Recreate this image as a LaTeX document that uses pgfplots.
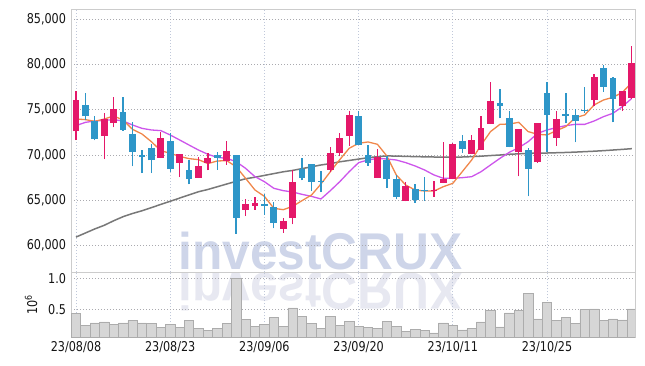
\documentclass[border=0pt]{standalone}
\usepackage{fontspec}
\setmainfont{DejaVu Sans}[FakeStretch=0.83]
\newfontfamily\wmfont{Liberation Sans}[FakeStretch=0.96]
\usepackage{pgfplots}
\pgfplotsset{compat=1.18}
\usepackage{pgfplotstable}

\definecolor{upred}{RGB}{228,24,105}
\definecolor{dnblue}{RGB}{46,150,200}
\definecolor{maorange}{RGB}{240,135,75}
\definecolor{mapurple}{RGB}{205,85,235}
\definecolor{magray}{RGB}{120,120,120}
\definecolor{volfill}{RGB}{214,214,214}
\definecolor{voledge}{RGB}{172,172,172}
\definecolor{wm}{RGB}{206,213,233}
\definecolor{wmr}{RGB}{231,232,241}
\definecolor{vgrid}{RGB}{192,200,218}
\definecolor{hgrid}{RGB}{170,170,175}

\pgfplotstableread{
x o h l c
0 72600 77100 71650 76100
3 72150 74600 69550 73950
4 73550 76350 73050 75050
9 69700 72550 69650 71850
11 69150 70150 67550 70100
13 67500 69750 67450 68800
14 69100 70200 68300 69650
16 69350 71500 68950 70450
18 63950 65200 63250 64550
19 64400 65350 63950 64700
22 61850 63100 61450 62700
23 63000 68350 62350 67000
27 68350 70900 68100 70200
28 70250 72400 69850 71900
29 72150 74800 71000 74400
32 67500 70650 67450 69750
35 64950 67000 64900 66550
38 66000 67150 65400 66150
39 66950 71400 66900 67350
40 67350 71350 67300 71200
42 70150 72200 70100 71600
43 70600 74350 70550 72950
44 73450 78000 73400 75950
47 70300 72900 67650 72850
49 69200 73550 69150 73500
51 71900 74850 71000 73950
55 76050 78950 75350 78650
58 75350 77100 74850 77050
59 76250 82000 76200 80100
}\up

\pgfplotstableread{
x o h l c
1 75500 76800 73850 74250
2 73700 74300 71600 71750
5 74750 76350 72700 72750
6 72300 73600 68750 70350
7 70000 70500 68000 69750
8 70750 71200 68000 69400
10 71550 72450 68150 68450
12 68350 69450 66750 67350
15 70000 70300 68400 69700
17 70000 70050 61300 63050
20 64650 65650 63400 64400
21 64250 64850 61900 62550
24 68450 69650 67200 67500
25 69000 69050 66050 67050
26 67180 68200 65950 67080
30 74350 74900 71050 71100
31 70000 71100 68800 69150
33 69400 69850 66350 67300
34 67350 67850 65100 65400
36 66250 66800 64750 65000
37 66150 67600 64950 66000
41 71500 72200 70200 70700
45 75750 77250 74050 75350
46 74100 74800 70850 70900
48 70550 70750 65450 68500
50 76850 78000 70300 74400
52 74500 76800 73500 74350
53 74400 75050 71400 73700
54 74970 77550 74650 74860
56 79600 79900 77000 77550
57 78450 78550 73600 76200
}\dn

\pgfplotstableread{
x m5 m10 mlong
0 73970 73240 60950
1 73900 73600 61400
2 73710 73750 61850
3 73970 73820 62250
4 74300 73900 62750
5 73860 73750 63200
6 72830 73310 63550
7 72320 72940 63850
8 71470 72760 64200
9 70480 72690 64550
10 70190 72210 64900
11 69850 71660 65250
12 69600 71100 65600
13 69490 70550 65950
14 69050 70080 66200
15 69340 69740 66500
16 69380 69630 66800
17 68710 69270 67100
18 67430 68530 67380
19 66140 67610 67550
20 65440 67060 67750
21 64120 66330 67950
22 63970 66070 68150
23 64340 65920 68300
24 64970 65660 68500
25 65590 65440 68700
26 66800 65150 68900
27 68160 66070 69050
28 69490 67060 69250
29 70740 68160 69400
30 71290 69160 69550
31 71440 69450 69700
32 71180 69630 69820
33 69890 69560 69900
34 67800 69450 69880
35 66690 69160 69850
36 66140 68790 69820
37 66030 68350 69800
38 66030 67800 69780
39 66510 67430 69760
40 66880 67430 69750
41 68160 67500 69780
42 69450 67610 69820
43 71100 68160 69870
44 72580 68900 69940
45 73380 69630 70000
46 73420 70300 70080
47 73600 70810 70130
48 72580 71470 70180
49 72280 72390 70210
50 72210 72760 70220
51 72690 73020 70250
52 73130 73240 70280
53 74120 73380 70320
54 74410 73380 70370
55 75520 73750 70420
56 76070 74230 70480
57 76360 74600 70550
58 76910 75330 70620
59 77980 76250 70700
}\ma

\pgfplotstableread{
x v
0 0.425
1 0.23
2 0.275
3 0.29
4 0.245
5 0.275
6 0.31
7 0.275
8 0.26
9 0.195
10 0.245
11 0.195
12 0.31
13 0.178
14 0.145
15 0.178
16 0.27
17 1.01
18 0.33
19 0.22
20 0.25
21 0.36
22 0.22
23 0.52
24 0.38
25 0.27
26 0.185
27 0.38
28 0.23
29 0.30
30 0.22
31 0.20
32 0.185
33 0.30
34 0.22
35 0.136
36 0.168
37 0.145
38 0.11
39 0.275
40 0.23
41 0.16
42 0.178
43 0.29
44 0.475
45 0.21
46 0.44
47 0.475
48 0.755
49 0.34
50 0.605
51 0.31
52 0.36
53 0.26
54 0.49
55 0.505
56 0.31
57 0.34
58 0.325
59 0.505
}\vol

\pgfplotsset{common/.style={
  scale only axis, width=564pt,
  xmin=-0.53, xmax=59.34,
  xtick={0,10,20,30,40,50},
  grid=major, major tick length=0pt,
  axis line style={draw=black!20},
  x grid style={dash pattern=on 0.9pt off 2.1pt, color=vgrid, line width=0.8pt},
  y grid style={dash pattern=on 0.9pt off 2.1pt, color=hgrid, line width=0.8pt},
  tick label style={font=\fontsize{13.5}{15}\selectfont, text=black!92},
  /pgf/number format/assume math mode=true,
},
candle/.style n args={2}{draw=none, mark=none,
  error bars/.cd, y dir=plus, y explicit, error mark=none,
  error bar style={draw=#1, line width=#2, solid}}
}

\begin{document}
\begin{tikzpicture}
\path[use as bounding box] (-71pt,-94pt) rectangle (574pt,272pt);
\node[font=\wmfont\bfseries\fontsize{51.7}{52}\selectfont, text=wm, anchor=base, inner sep=0pt] at (249.5pt,2pt) {investCRUX};
\node[font=\wmfont\bfseries\fontsize{51.7}{52}\selectfont, text=wmr, anchor=base, inner sep=0pt] at (249.5pt,-1.3pt) {\scalebox{1}[-1]{investCRUX}};

\begin{axis}[common,
  at={(0,0)}, anchor=south west, height=263pt,
  ymin=57100, ymax=86100,
  ytick={60000,65000,70000,75000,80000,85000},
  scaled y ticks=false,
  /pgf/number format/1000 sep={,},
  xticklabels={,,,,,},
  yticklabel style={xshift=-1.5pt},
]
% moving averages
\addplot[magray, line width=1.5pt] table[x=x, y=mlong] {\ma};
\addplot[mapurple, line width=1.3pt] table[x=x, y=m10] {\ma};
\addplot[maorange, line width=1.3pt] table[x=x, y=m5] {\ma};
% up candles: wicks and bodies
\addplot[candle={upred}{1.3pt}]
  table[x=x, y=l, y error plus expr={\thisrow{h}-\thisrow{l}}] {\up};
\addplot[candle={upred}{6.8pt}]
  table[x=x, y=o, y error plus expr={\thisrow{c}-\thisrow{o}}] {\up};
% down candles
\addplot[candle={dnblue}{1.3pt}]
  table[x=x, y=l, y error plus expr={\thisrow{h}-\thisrow{l}}] {\dn};
\addplot[candle={dnblue}{6.8pt}]
  table[x=x, y=c, y error plus expr={\thisrow{o}-\thisrow{c}}] {\dn};
\end{axis}

\begin{axis}[common,
  at={(0,0)}, anchor=north west, height=65.3pt,
  ymin=0.038, ymax=1.11,
  ytick={0.5,1.0}, yticklabels={0.5,1.0},
  xticklabels={23/08/08,23/08/23,23/09/06,23/09/20,23/10/11,23/10/25},
  xticklabel style={yshift=-1pt},
  yticklabel style={xshift=-1.5pt},
  ylabel={10\textsuperscript{6}},
  ylabel style={font=\fontsize{13.5}{15}\selectfont, text=black!92},
  ylabel shift=4pt,
]
\addplot[ybar, bar width=1, fill=volfill, draw=voledge, line width=0.6pt] table[x=x, y=v] {\vol};
\end{axis}
\end{tikzpicture}
\end{document}
